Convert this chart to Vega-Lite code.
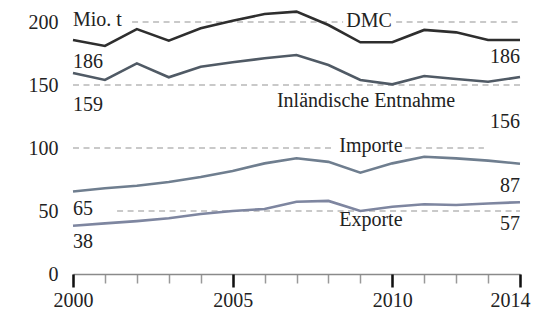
{
  "$schema": "https://vega.github.io/schema/vega-lite/v6.json",
  "width": 447,
  "height": 252,
  "padding": {"left": 73, "top": 22, "right": 15, "bottom": 41},
  "autosize": {"type": "none"},
  "background": "white",
  "config": {"view": {"stroke": null}, "font": "Liberation Serif", "axis": {"labelOverlap": false, "labelFlush": false, "labelBound": false}},
  "resolve": {"axis": {"x": "independent"}},
  "datasets": {
    "grid": [
      {"start": 2001.85, "end": 2008.46, "v": 200},
      {"start": 2010.12, "end": 2014, "v": 200},
      {"start": 2000, "end": 2014, "v": 150},
      {"start": 2000, "end": 2008.14, "v": 100},
      {"start": 2010.4, "end": 2012.87, "v": 100},
      {"start": 2001.38, "end": 2014, "v": 50}
    ],
    "series": [
      {"year": 2000, "s": "DMC", "value": 185.7},
      {"year": 2001, "s": "DMC", "value": 181},
      {"year": 2002, "s": "DMC", "value": 194.4},
      {"year": 2003, "s": "DMC", "value": 185.2},
      {"year": 2004, "s": "DMC", "value": 195},
      {"year": 2005, "s": "DMC", "value": 201},
      {"year": 2006, "s": "DMC", "value": 206.3},
      {"year": 2007, "s": "DMC", "value": 208.2},
      {"year": 2008, "s": "DMC", "value": 197.6},
      {"year": 2009, "s": "DMC", "value": 183.9},
      {"year": 2010, "s": "DMC", "value": 183.9},
      {"year": 2011, "s": "DMC", "value": 193.7},
      {"year": 2012, "s": "DMC", "value": 191.8},
      {"year": 2013, "s": "DMC", "value": 185.7},
      {"year": 2014, "s": "DMC", "value": 185.7},
      {"year": 2000, "s": "Inland", "value": 159.5},
      {"year": 2001, "s": "Inland", "value": 154},
      {"year": 2002, "s": "Inland", "value": 167.2},
      {"year": 2003, "s": "Inland", "value": 156.1},
      {"year": 2004, "s": "Inland", "value": 164.5},
      {"year": 2005, "s": "Inland", "value": 168},
      {"year": 2006, "s": "Inland", "value": 171.2},
      {"year": 2007, "s": "Inland", "value": 173.8},
      {"year": 2008, "s": "Inland", "value": 165.9},
      {"year": 2009, "s": "Inland", "value": 154},
      {"year": 2010, "s": "Inland", "value": 150.5},
      {"year": 2011, "s": "Inland", "value": 157.1},
      {"year": 2012, "s": "Inland", "value": 154.8},
      {"year": 2013, "s": "Inland", "value": 152.6},
      {"year": 2014, "s": "Inland", "value": 156.3},
      {"year": 2000, "s": "Importe", "value": 65.5},
      {"year": 2001, "s": "Importe", "value": 68},
      {"year": 2002, "s": "Importe", "value": 70},
      {"year": 2003, "s": "Importe", "value": 73},
      {"year": 2004, "s": "Importe", "value": 77},
      {"year": 2005, "s": "Importe", "value": 81.7},
      {"year": 2006, "s": "Importe", "value": 87.8},
      {"year": 2007, "s": "Importe", "value": 91.8},
      {"year": 2008, "s": "Importe", "value": 89},
      {"year": 2009, "s": "Importe", "value": 80.4},
      {"year": 2010, "s": "Importe", "value": 87.8},
      {"year": 2011, "s": "Importe", "value": 93},
      {"year": 2012, "s": "Importe", "value": 91.8},
      {"year": 2013, "s": "Importe", "value": 90},
      {"year": 2014, "s": "Importe", "value": 87.5},
      {"year": 2000, "s": "Exporte", "value": 38.3},
      {"year": 2001, "s": "Exporte", "value": 40.2},
      {"year": 2002, "s": "Exporte", "value": 42},
      {"year": 2003, "s": "Exporte", "value": 44.2},
      {"year": 2004, "s": "Exporte", "value": 47.6},
      {"year": 2005, "s": "Exporte", "value": 50},
      {"year": 2006, "s": "Exporte", "value": 51.6},
      {"year": 2007, "s": "Exporte", "value": 57.4},
      {"year": 2008, "s": "Exporte", "value": 58},
      {"year": 2009, "s": "Exporte", "value": 50},
      {"year": 2010, "s": "Exporte", "value": 53.4},
      {"year": 2011, "s": "Exporte", "value": 55.3},
      {"year": 2012, "s": "Exporte", "value": 54.8},
      {"year": 2013, "s": "Exporte", "value": 56},
      {"year": 2014, "s": "Exporte", "value": 57}
    ],
    "labelsLeft": [
      {"year": 2000, "value": 196.8, "label": "Mio. t"},
      {"year": 2000, "value": 163.5, "label": "186"},
      {"year": 2000, "value": 129.4, "label": "159"},
      {"year": 2000, "value": 46.8, "label": "65"},
      {"year": 2000, "value": 20.4, "label": "38"}
    ],
    "labelsCenter": [
      {"year": 2009.27, "value": 196.3, "label": "DMC"},
      {"year": 2009.18, "value": 132.3, "label": "Inländische Entnahme"},
      {"year": 2009.33, "value": 96.8, "label": "Importe"},
      {"year": 2009.33, "value": 38.3, "label": "Exporte"}
    ],
    "labelsRight": [
      {"year": 2014, "value": 167.2, "label": "186"},
      {"year": 2014, "value": 115.6, "label": "156"},
      {"year": 2014, "value": 65.3, "label": "87"},
      {"year": 2014, "value": 34.9, "label": "57"}
    ]
  },
  "layer": [
    {
      "data": {"name": "grid"},
      "mark": {"type": "rule", "stroke": "#b8b8b8", "strokeWidth": 1.3, "strokeDash": [6, 4.5]},
      "encoding": {
        "x": {
          "field": "start", "type": "quantitative", "title": null,
          "scale": {"domain": [2000, 2014], "nice": false, "zero": false},
          "axis": {
            "title": null,
            "orient": "bottom",
            "values": [2000, 2001, 2002, 2003, 2004, 2005, 2006, 2007, 2008, 2009, 2010, 2011, 2012, 2013, 2014],
            "labels": false,
            "grid": false,
            "domainColor": "#8a8a8a",
            "domainWidth": 1.5,
            "tickColor": "#999999",
            "tickWidth": 1.5,
            "tickSize": 9
          }
        },
        "x2": {"field": "end"},
        "y": {"field": "v", "type": "quantitative", "title": null}
      }
    },
    {
      "data": {"name": "series"},
      "mark": {"type": "line", "strokeWidth": 2.6, "strokeJoin": "miter"},
      "encoding": {
        "x": {
          "field": "year", "type": "quantitative", "title": null,
          "axis": {
            "title": null,
            "orient": "bottom",
            "values": [2000, 2005, 2010, 2014],
            "format": "d",
            "grid": false,
            "domain": false,
            "tickColor": "#111111",
            "tickWidth": 2.5,
            "tickSize": 13,
            "labelOffset": {"condition": {"test": "datum.value == 2014", "value": -10}, "value": 0},
            "labelFlush": false,
            "labelBound": false,
            "labelOverlap": false,
            "labelFont": "Liberation Serif",
            "labelFontSize": 20,
            "labelColor": "#222222",
            "labelPadding": 3
          }
        },
        "y": {
          "field": "value", "type": "quantitative", "title": null,
          "scale": {"domain": [0, 200], "nice": false},
          "axis": {
            "title": null,
            "values": [0, 50, 100, 150, 200],
            "domain": false,
            "ticks": false,
            "grid": false,
            "labelFont": "Liberation Serif",
            "labelFontSize": 20,
            "labelColor": "#222222",
            "labelPadding": 15
          }
        },
        "color": {
          "field": "s", "type": "nominal", "legend": null,
          "scale": {"domain": ["DMC", "Inland", "Importe", "Exporte"], "range": ["#2e2e2e", "#505a65", "#6f7e8f", "#7e86a0"]}
        }
      }
    },
    {
      "data": {"name": "labelsLeft"},
      "mark": {"type": "text", "align": "left", "baseline": "alphabetic", "fontSize": 20, "font": "Liberation Serif", "color": "#222222"},
      "encoding": {
        "x": {"field": "year", "type": "quantitative", "title": null, "axis": null},
        "y": {"field": "value", "type": "quantitative", "title": null},
        "text": {"field": "label"}
      }
    },
    {
      "data": {"name": "labelsCenter"},
      "mark": {"type": "text", "align": "center", "baseline": "alphabetic", "fontSize": 20, "font": "Liberation Serif", "color": "#222222"},
      "encoding": {
        "x": {"field": "year", "type": "quantitative", "title": null, "axis": null},
        "y": {"field": "value", "type": "quantitative", "title": null},
        "text": {"field": "label"}
      }
    },
    {
      "data": {"name": "labelsRight"},
      "mark": {"type": "text", "align": "right", "baseline": "alphabetic", "fontSize": 20, "font": "Liberation Serif", "color": "#222222"},
      "encoding": {
        "x": {"field": "year", "type": "quantitative", "title": null, "axis": null},
        "y": {"field": "value", "type": "quantitative", "title": null},
        "text": {"field": "label"}
      }
    }
  ]
}
